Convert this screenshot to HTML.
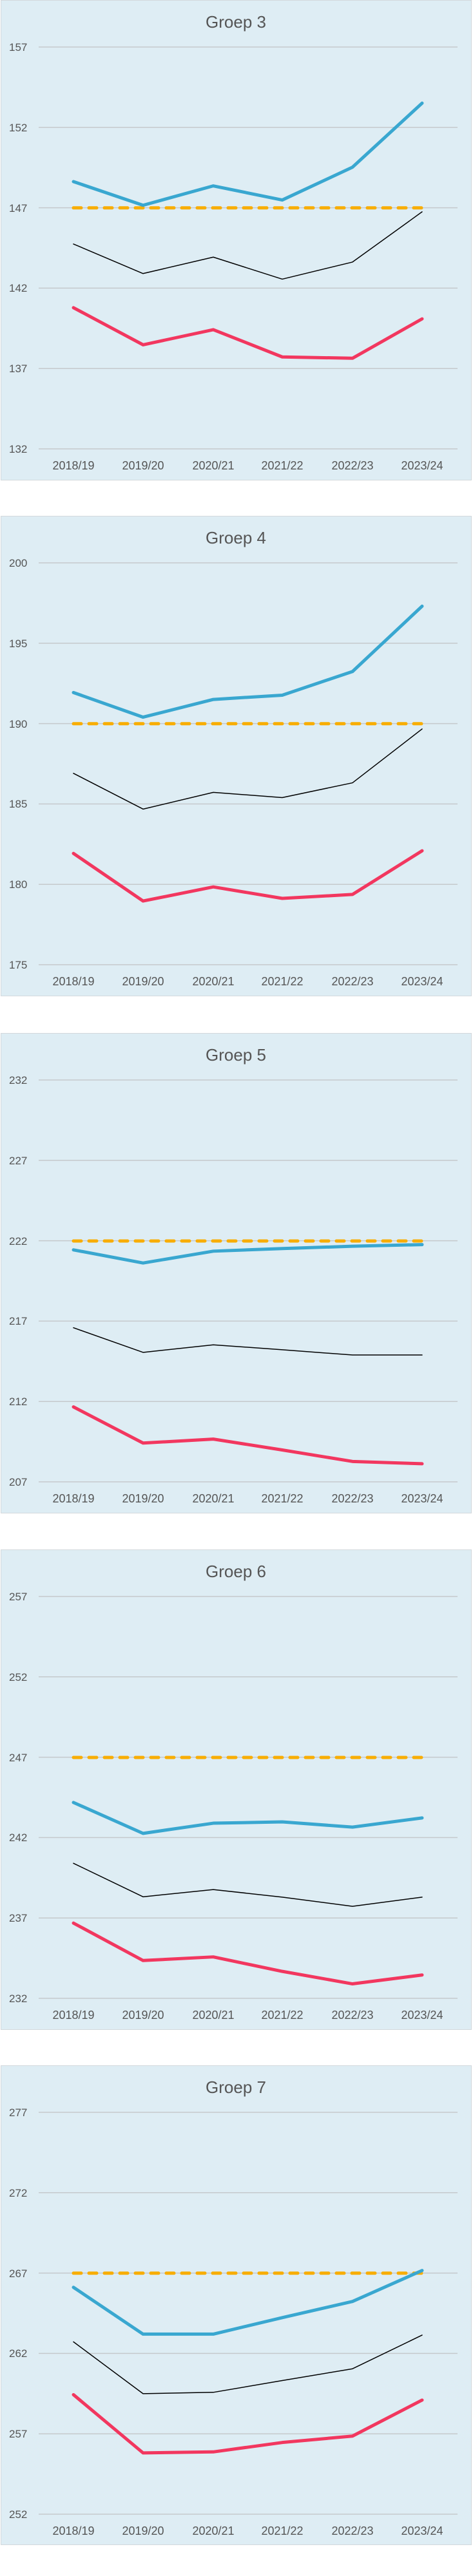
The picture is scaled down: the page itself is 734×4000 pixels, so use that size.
<!DOCTYPE html>
<html><head><meta charset="utf-8"><style>
html,body{margin:0;padding:0;background:#fff;width:734px;height:4000px;overflow:hidden;position:relative}
svg{position:absolute;left:0;font-family:"Liberation Sans",Arial,sans-serif}
.t{font-size:26px;fill:#555;text-anchor:middle}
.y{font-size:17px;fill:#555}
.x{font-size:18px;fill:#555;text-anchor:middle}
.g{stroke:#c5c9cc;stroke-width:1.5}
.b,.r,.k,.o{fill:none;vector-effect:non-scaling-stroke;stroke-linejoin:round;stroke-linecap:round}
.b{stroke:#39a7d0;stroke-width:5}
.r{stroke:#f2375f;stroke-width:5}
.k{stroke:#000;stroke-width:1.5}
.o{stroke:#f8ad00;stroke-width:5;stroke-dasharray:12 12}
</style></head><body>

<svg style="top:0" width="734" height="748">
<rect x="1.5" y="0.5" width="730" height="745" fill="#deedf4" stroke="#d3d8dc"/>
<text class="t" x="366" y="43">Groep 3</text>
<g class="g"><line x1="60" x2="710" y1="73" y2="73"/><line x1="60" x2="710" y1="197.8" y2="197.8"/><line x1="60" x2="710" y1="322.6" y2="322.6"/><line x1="60" x2="710" y1="447.4" y2="447.4"/><line x1="60" x2="710" y1="572.2" y2="572.2"/><line x1="60" x2="710" y1="697" y2="697"/></g>
<g class="y"><text x="14" y="79">157</text><text x="14" y="204">152</text><text x="14" y="329">147</text><text x="14" y="453">142</text><text x="14" y="578">137</text><text x="14" y="703">132</text></g>
<g class="x"><text x="114" y="729">2018/19</text><text x="222" y="729">2019/20</text><text x="331" y="729">2020/21</text><text x="438" y="729">2021/22</text><text x="547" y="729">2022/23</text><text x="655" y="729">2023/24</text></g>
<g transform="translate(0,73) scale(1,0.5098) translate(0,-143)">
<polyline class="o" points="114,633 655,633"/>
<polyline class="k" points="114,743 222,833 331,783 438,850 547,798 655,645"/>
<polyline class="b" points="114,553 222,625 331,566 438,609 547,509 655,314"/>
<polyline class="r" points="114,937 222,1050 331,1004 438,1087 547,1091 655,971"/>
</g></svg>

<svg style="top:801px" width="734" height="748">
<rect x="1.5" y="0.5" width="730" height="745" fill="#deedf4" stroke="#d3d8dc"/>
<text class="t" x="366" y="43">Groep 4</text>
<g class="g"><line x1="60" x2="710" y1="73" y2="73"/><line x1="60" x2="710" y1="197.8" y2="197.8"/><line x1="60" x2="710" y1="322.6" y2="322.6"/><line x1="60" x2="710" y1="447.4" y2="447.4"/><line x1="60" x2="710" y1="572.2" y2="572.2"/><line x1="60" x2="710" y1="697" y2="697"/></g>
<g class="y"><text x="14" y="79">200</text><text x="14" y="204">195</text><text x="14" y="329">190</text><text x="14" y="453">185</text><text x="14" y="578">180</text><text x="14" y="703">175</text></g>
<g class="x"><text x="114" y="729">2018/19</text><text x="222" y="729">2019/20</text><text x="331" y="729">2020/21</text><text x="438" y="729">2021/22</text><text x="547" y="729">2022/23</text><text x="655" y="729">2023/24</text></g>
<g transform="translate(0,73) scale(1,0.5098) translate(0,-188)">
<polyline class="o" points="114,678 655,678"/>
<polyline class="k" points="114,829 222,938 331,887 438,903 547,858 655,694"/>
<polyline class="b" points="114,583 222,658 331,604 438,591 547,519 655,320"/>
<polyline class="r" points="114,1073 222,1218 331,1175 438,1210 547,1198 655,1065"/>
</g></svg>

<svg style="top:1604px" width="734" height="748">
<rect x="1.5" y="0.5" width="730" height="745" fill="#deedf4" stroke="#d3d8dc"/>
<text class="t" x="366" y="43">Groep 5</text>
<g class="g"><line x1="60" x2="710" y1="73" y2="73"/><line x1="60" x2="710" y1="197.8" y2="197.8"/><line x1="60" x2="710" y1="322.6" y2="322.6"/><line x1="60" x2="710" y1="447.4" y2="447.4"/><line x1="60" x2="710" y1="572.2" y2="572.2"/><line x1="60" x2="710" y1="697" y2="697"/></g>
<g class="y"><text x="14" y="79">232</text><text x="14" y="204">227</text><text x="14" y="329">222</text><text x="14" y="453">217</text><text x="14" y="578">212</text><text x="14" y="703">207</text></g>
<g class="x"><text x="114" y="729">2018/19</text><text x="222" y="729">2019/20</text><text x="331" y="729">2020/21</text><text x="438" y="729">2021/22</text><text x="547" y="729">2022/23</text><text x="655" y="729">2023/24</text></g>
<g transform="translate(0,73) scale(1,0.5102) translate(0,-191)">
<polyline class="o" points="114,681 655,681"/>
<polyline class="k" points="114,945 222,1020 331,997 438,1012 547,1028 655,1028"/>
<polyline class="b" points="114,708 222,748 331,712 438,704 547,697 655,692"/>
<polyline class="r" points="114,1186 222,1296 331,1284 438,1317 547,1352 655,1359"/>
</g></svg>

<svg style="top:2406px" width="734" height="748">
<rect x="1.5" y="0.5" width="730" height="745" fill="#deedf4" stroke="#d3d8dc"/>
<text class="t" x="366" y="43">Groep 6</text>
<g class="g"><line x1="60" x2="710" y1="73" y2="73"/><line x1="60" x2="710" y1="197.8" y2="197.8"/><line x1="60" x2="710" y1="322.6" y2="322.6"/><line x1="60" x2="710" y1="447.4" y2="447.4"/><line x1="60" x2="710" y1="572.2" y2="572.2"/><line x1="60" x2="710" y1="697" y2="697"/></g>
<g class="y"><text x="14" y="79">257</text><text x="14" y="204">252</text><text x="14" y="329">247</text><text x="14" y="453">242</text><text x="14" y="578">237</text><text x="14" y="703">232</text></g>
<g class="x"><text x="114" y="729">2018/19</text><text x="222" y="729">2019/20</text><text x="331" y="729">2020/21</text><text x="438" y="729">2021/22</text><text x="547" y="729">2022/23</text><text x="655" y="729">2023/24</text></g>
<g transform="translate(0,73) scale(1,0.5102) translate(0,-194)">
<polyline class="o" points="114,684 655,684"/>
<polyline class="k" points="114,1006 222,1108 331,1086 438,1109 547,1137 655,1109"/>
<polyline class="b" points="114,821 222,915 331,884 438,880 547,896 655,868"/>
<polyline class="r" points="114,1188 222,1302 331,1291 438,1335 547,1373 655,1346"/>
</g></svg>

<svg style="top:3207px" width="734" height="748">
<rect x="1.5" y="0.5" width="730" height="744" fill="#deedf4" stroke="#d3d8dc"/>
<text class="t" x="366" y="43">Groep 7</text>
<g class="g"><line x1="60" x2="710" y1="73" y2="73"/><line x1="60" x2="710" y1="197.8" y2="197.8"/><line x1="60" x2="710" y1="322.6" y2="322.6"/><line x1="60" x2="710" y1="447.4" y2="447.4"/><line x1="60" x2="710" y1="572.2" y2="572.2"/><line x1="60" x2="710" y1="697" y2="697"/></g>
<g class="y"><text x="14" y="79">277</text><text x="14" y="204">272</text><text x="14" y="329">267</text><text x="14" y="453">262</text><text x="14" y="578">257</text><text x="14" y="703">252</text></g>
<g class="x"><text x="114" y="729">2018/19</text><text x="222" y="729">2019/20</text><text x="331" y="729">2020/21</text><text x="438" y="729">2021/22</text><text x="547" y="729">2022/23</text><text x="655" y="729">2023/24</text></g>
<g transform="translate(0,73) scale(1,0.5226) translate(0,-191)">
<polyline class="o" points="114,669 655,669"/>
<polyline class="k" points="114,873 222,1027 331,1023 438,988 547,953 655,853"/>
<polyline class="b" points="114,711 222,850 331,850 438,801 547,753 655,661"/>
<polyline class="r" points="114,1030 222,1203 331,1200 438,1172 547,1153 655,1046"/>
</g></svg>

</body></html>
